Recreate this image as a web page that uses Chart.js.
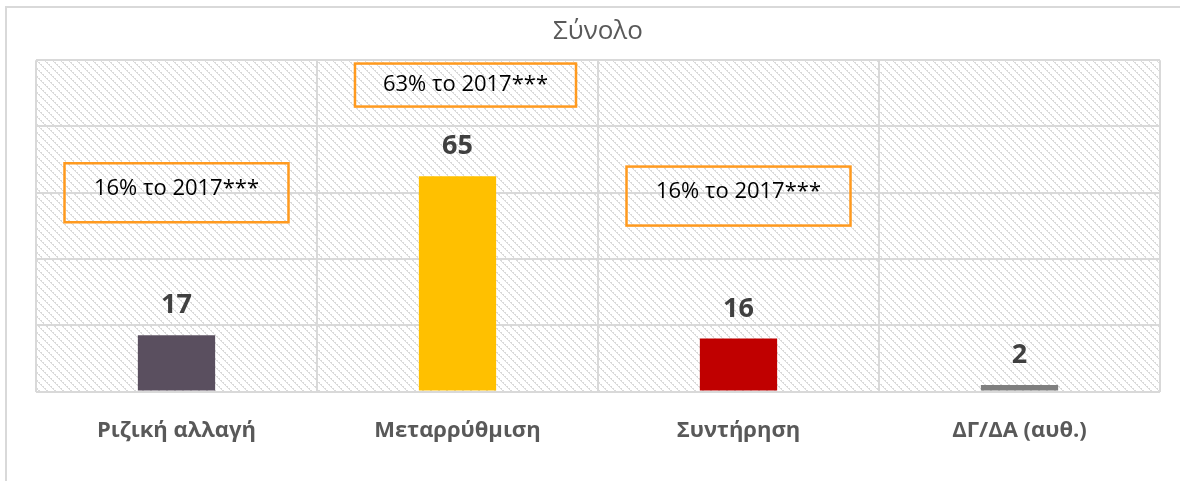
<!DOCTYPE html>
<html>
<head>
<meta charset="utf-8">
<script src="https://cdn.jsdelivr.net/npm/chart.js@4"></script>
<style>
html,body{margin:0;padding:0;background:#fff;}
#frame{position:absolute;left:5px;top:6px;width:1200px;height:500px;border-top:2px solid #d9d9d9;border-left:2px solid #d9d9d9;}
#wrap{position:absolute;left:0;top:0;width:1180px;height:481px;}
</style>
</head>
<body>
<div id="frame"></div>
<div id="wrap"><canvas id="c" width="1180" height="481"></canvas></div>
<script>
const categories = ["Ριζική αλλαγή", "Μεταρρύθμιση", "Συντήρηση", "ΔΓ/ΔΑ (αυθ.)"];
const values = [17, 65, 16, 2];
const barColors = ["#5a4f5f", "#ffc000", "#c00000", "#7f7f7f"];
const notes = ["16% το 2017***", "63% το 2017***", "16% το 2017***"];
const noteCategory = [0, 1, 2];
const noteLevel = [60, 92.5, 59];

const FONT = "'Open Sans', 'Noto Sans', sans-serif";

function hatch(ctx){
const t = document.createElement("canvas");
t.width = 8; t.height = 8;
const g = t.getContext("2d");
g.fillStyle = "#ffffff";
g.fillRect(0,0,8,8);
g.fillStyle = "#dadada";
for(let i=0;i<8;i++){
g.fillRect(i, i, 1, 1);
if(i%2===0) g.fillRect((i+1)%8, i, 1, 1);
}
return ctx.createPattern(t, "repeat");
}

const background = {
id:"background",
beforeDraw(chart){
const a = chart.chartArea, ctx = chart.ctx;
ctx.save();
ctx.fillStyle = hatch(ctx);
ctx.fillRect(a.left, a.top, a.right-a.left, a.bottom-a.top);
ctx.restore();
}
};

const labels = {
id:"labels",
afterDatasetsDraw(chart){
const ctx = chart.ctx;
const meta = chart.getDatasetMeta(0);
ctx.save();
ctx.font = "bold 27px " + FONT;
ctx.fillStyle = "#404040";
ctx.textAlign = "center";
ctx.textBaseline = "alphabetic";
meta.data.forEach((bar,i)=>{
ctx.fillText(values[i], bar.x, bar.y - 22);
});
ctx.restore();
}
};

const boxes = {
id:"boxes",
afterDraw(chart){
const ctx = chart.ctx;
const x = chart.scales.x, y = chart.scales.y;
ctx.save();
ctx.font = "22px " + FONT;
notes.forEach((txt,i)=>{
const cx = x.getPixelForValue(noteCategory[i]) + (i===1 ? 8 : 0);
const cy = y.getPixelForValue(noteLevel[i]);
const w = i===1 ? 221 : 224, h = i===1 ? 43 : 59;
ctx.strokeStyle = "#ff9a1f";
ctx.lineWidth = 2.5;
ctx.strokeRect(cx - w/2, cy - h/2, w, h);
ctx.fillStyle = "#000";
ctx.textAlign = "center";
ctx.textBaseline = "middle";
ctx.fillText(txt, cx, cy + (i===1 ? 0 : -4));
});
ctx.restore();
}
};

new Chart(document.getElementById("c"), {
type:"bar",
data:{
labels:categories,
datasets:[{
data:values,
backgroundColor:barColors,
barPercentage:0.275,
categoryPercentage:1
}]
},
options:{
responsive:false,
animation:false,
layout:{padding:{left:36,right:20,top:0,bottom:11}},
plugins:{
legend:{display:false},
tooltip:{enabled:false},
title:{
display:true,
text:"Σύνολο",
color:"#595959",
font:{family:FONT,size:26,weight:"normal"},
padding:{top:16,bottom:13}
}
},
scales:{
x:{
grid:{color:"#d9d9d9",lineWidth:2,drawTicks:false},
border:{display:false},
ticks:{color:"#595959",font:{family:FONT,size:22,weight:"bold"},padding:26}
},
y:{
min:0,max:100,
ticks:{display:false,stepSize:20},
grid:{color:"#d9d9d9",lineWidth:2,drawTicks:false},
border:{display:false}
}
}
},
plugins:[background,labels,boxes]
});
</script>
</body>
</html>
